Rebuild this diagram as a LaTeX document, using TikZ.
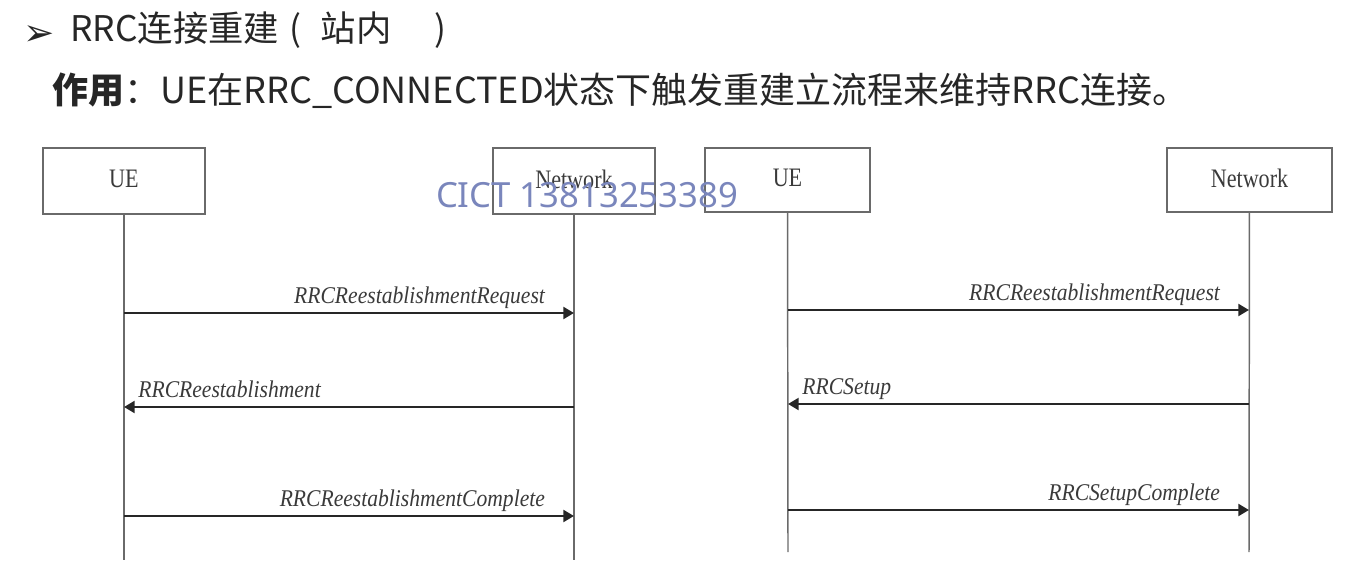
\documentclass[tikz,border=0pt]{standalone}
\usepackage{fontspec}
\usepackage{graphicx}
\setmainfont{Liberation Serif}
\newfontfamily\cjk{Noto Sans CJK SC}
\newfontfamily\wmfont{Noto Sans}
\newfontfamily\dingfont{DejaVu Sans}
\usetikzlibrary{arrows.meta}
\definecolor{linegray}{HTML}{6A6A6A}
\definecolor{textgray}{HTML}{3A3A3A}
\definecolor{msggray}{HTML}{262626}
\definecolor{wmblue}{HTML}{7A86BC}
\newcommand{\boxtext}[1]{\scalebox{0.83}[1]{#1}}
\newcommand{\msgtext}[1]{\scalebox{0.9}[1]{#1}}

\begin{document}
\begin{tikzpicture}[x=0.75pt,y=-0.75pt]
        \useasboundingbox (0,0) rectangle (1364,563);
        \begin{scope}
            \tikzstyle{every node}=[inner sep=0pt, anchor=base west, text=black!85]
            \node (bullet) at (23,46) {\dingfont\fontsize{28}{28}\selectfont ➢};
            \node (title) at (70,42) {\cjk\fontsize{26.5}{26.5}\selectfont RRC连接重建\hspace{0.3em}(\hspace{0.55em}站内\hspace{1.2em})};
            \node (purpose) at (52,104) {\cjk\fontsize{27}{27}\selectfont \textbf{作用}：UE在RRC\_CONNECTED状态下触发重建立流程来维持RRC连接。};
        \end{scope}
        \begin{scope}
            \tikzstyle{every node}=[draw=linegray, line width=1.1pt, minimum width=121.5pt, minimum height=49.5pt, text depth=3pt, text=textgray, font=\fontsize{20}{20}\selectfont]
            \node (ue1) at (124,181) {\boxtext{UE}};
            \node (nw1) at (574,181) {\boxtext{Network}};
            \node (ue2) at (787.5,180) [minimum width=124pt, minimum height=48pt] {\boxtext{UE}};
            \node (nw2) at (1249.5,180) [minimum width=124pt, minimum height=48pt] {\boxtext{Network}};
        \end{scope}
        \coordinate (ue1end) at (124,560);
        \coordinate (nw1end) at (574,560);
        \coordinate (ue2end) at (788,552);
        \coordinate (nw2end) at (1249,552);
        \coordinate (a1) at (124,313);
        \coordinate (b1) at (574,313);
        \coordinate (a2) at (124,407);
        \coordinate (b2) at (574,407);
        \coordinate (a3) at (124,516);
        \coordinate (b3) at (574,516);
        \coordinate (c1) at (788,310);
        \coordinate (d1) at (1249,310);
        \coordinate (c2) at (788,404);
        \coordinate (d2) at (1249,404);
        \coordinate (c3) at (788,510);
        \coordinate (d3) at (1249,510);
        \begin{scope}
            \tikzstyle{every edge}=[draw, linegray, line width=1.1pt]
            \path
            (ue1) edge (ue1end)
            (nw1) edge (nw1end)
            (ue2) edge (ue2end)
            (nw2) edge (nw2end)
            ;
        \end{scope}
        \begin{scope}
            \tikzstyle{every edge}=[draw, msggray, line width=1.6pt, -{Triangle[length=8pt,width=9pt]}]
            \tikzstyle{every node}=[inner sep=0pt, text=textgray, font=\itshape\fontsize{18}{18}\selectfont]
            \tikzstyle{uplabel}=[at end, anchor=base east, xshift=-21pt, yshift=7.5pt]
            \tikzstyle{downlabel}=[at end, anchor=base west, xshift=10pt, yshift=7.5pt]
            \path
            (a1) edge node[uplabel] {\msgtext{RRCReestablishmentRequest}} (b1)
            (b2) edge node[downlabel] {\msgtext{RRCReestablishment}} (a2)
            (a3) edge node[uplabel] {\msgtext{RRCReestablishmentComplete}} (b3)
            (c1) edge node[uplabel] {\msgtext{RRCReestablishmentRequest}} (d1)
            (d2) edge node[downlabel] {\msgtext{RRCSetup}} (c2)
            (c3) edge node[uplabel] {\msgtext{RRCSetupComplete}} (d3)
            ;
        \end{scope}
        \node[text=wmblue, inner sep=0pt] (watermark) at (587,195) {\wmfont\fontsize{26}{26}\selectfont CICT 13813253389};
\end{tikzpicture}
\end{document}
